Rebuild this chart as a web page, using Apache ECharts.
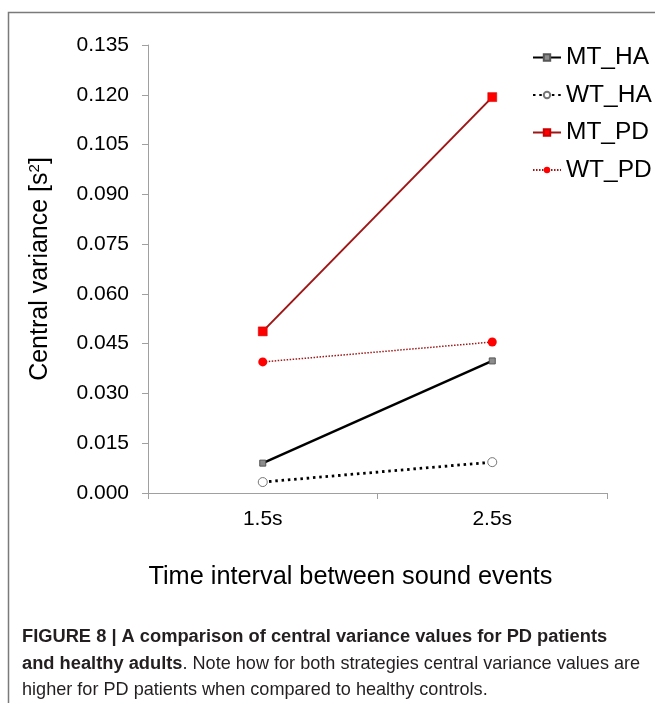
<!DOCTYPE html>
<html>
<head>
<meta charset="utf-8">
<script src="https://cdn.jsdelivr.net/npm/echarts@6/dist/echarts.min.js"></script>
<style>
html,body{margin:0;padding:0;background:#fff;}
#chart{width:655px;height:703px;}
</style>
</head>
<body>
<div id="chart"></div>
<script>
const categories = ['1.5s', '2.5s'];
const seriesNames = ['MT_HA', 'WT_HA', 'MT_PD', 'WT_PD'];
const mtHA = [0.0090, 0.0398];
const wtHA = [0.0033, 0.0093];
const mtPD = [0.0487, 0.1193];
const wtPD = [0.0395, 0.0455];
const yMin = 0, yMax = 0.135, yStep = 0.015;

const FONT = "'Liberation Sans', Arial, Helvetica, sans-serif";
const chart = echarts.init(document.getElementById('chart'));

const option = {
  backgroundColor: '#fff',
  animation: false,
  textStyle: { fontFamily: FONT },
  grid: { left: 148, right: 48, top: 45, bottom: 210 },
  legend: {
    orient: 'vertical',
    left: 527,
    top: 40,
    itemWidth: 28,
    itemHeight: 8,
    itemGap: 12.5,
    textStyle: { fontSize: 24.5, color: '#000', fontFamily: FONT },
    data: seriesNames
  },
  xAxis: {
    type: 'category',
    data: categories,
    boundaryGap: true,
    axisLine: { lineStyle: { color: '#a0a0a0', width: 1 } },
    axisTick: { show: true, length: 6, lineStyle: { color: '#a0a0a0' } },
    axisLabel: { fontSize: 21, color: '#000', margin: 16, fontFamily: FONT },
    name: 'Time interval between sound events',
    nameLocation: 'middle',
    nameGap: 72,
    nameTextStyle: { fontSize: 25.3, color: '#000', fontFamily: FONT, padding: [0, 54, 0, 0] }
  },
  yAxis: {
    type: 'value',
    min: yMin,
    max: yMax,
    interval: yStep,
    splitLine: { show: false },
    axisLine: { show: true, lineStyle: { color: '#a0a0a0', width: 1 } },
    axisTick: { show: true, length: 6, lineStyle: { color: '#a0a0a0' } },
    axisLabel: { fontSize: 21, color: '#000', margin: 19, fontFamily: FONT,
      formatter: v => v.toFixed(3) },
    name: '{t|Central variance [s}{sup|2}{t|]}',
    nameLocation: 'middle',
    nameGap: 94,
    nameTextStyle: {
      fontFamily: FONT,
      rich: {
        t: { fontSize: 25, color: '#000', fontFamily: FONT },
        sup: { fontSize: 15, color: '#000', fontFamily: FONT, verticalAlign: 'top', padding: [0, 0, 12, 0] }
      }
    }
  },
  series: [
    {
      name: 'MT_HA', type: 'line', data: mtHA,
      symbol: 'rect', symbolSize: 6,
      lineStyle: { color: '#000', width: 2.5, type: 'solid' },
      itemStyle: { color: '#8c8c8c', borderColor: '#555', borderWidth: 1 },
      z: 3
    },
    {
      name: 'WT_HA', type: 'line', data: wtHA,
      symbol: 'circle', symbolSize: 9,
      lineStyle: { color: '#000', width: 2.8, type: [2.5, 3.8], cap: 'butt' },
      itemStyle: { color: '#fff', borderColor: '#777', borderWidth: 1 },
      z: 3
    },
    {
      name: 'MT_PD', type: 'line', data: mtPD,
      symbol: 'rect', symbolSize: 9,
      lineStyle: { color: '#9e1616', width: 2, type: 'solid' },
      itemStyle: { color: '#ff0000', borderColor: '#c00', borderWidth: 0.5 },
      z: 3
    },
    {
      name: 'WT_PD', type: 'line', data: wtPD,
      symbol: 'circle', symbolSize: 9,
      lineStyle: { color: '#a01818', width: 1.5, type: [1.5, 1.5] },
      itemStyle: { color: '#ff0000', borderColor: '#ff0000', borderWidth: 0 },
      z: 3
    }
  ],
  graphic: [
    {
      type: 'polyline',
      shape: { points: [[8.5, 703], [8.5, 12.5], [655, 12.5]] },
      style: { stroke: '#7a7a7a', lineWidth: 1.5, fill: null },
      silent: true
    },
    {
      type: 'text',
      left: 22,
      top: 628,
      style: {
        text: '{b|FIGURE 8 | A comparison of central variance values for PD patients}\n{b|and healthy adults}{n|. Note how for both strategies central variance values are}\n{n|higher for PD patients when compared to healthy controls.}',
        rich: {
          b: { fontSize: 18.3, fontWeight: 'bold', fill: '#231f20', fontFamily: FONT, lineHeight: 26.5 },
          n: { fontSize: 18.1, fill: '#231f20', fontFamily: FONT, lineHeight: 26.5 }
        }
      }
    }
  ]
};
chart.setOption(option);
</script>
</body>
</html>
